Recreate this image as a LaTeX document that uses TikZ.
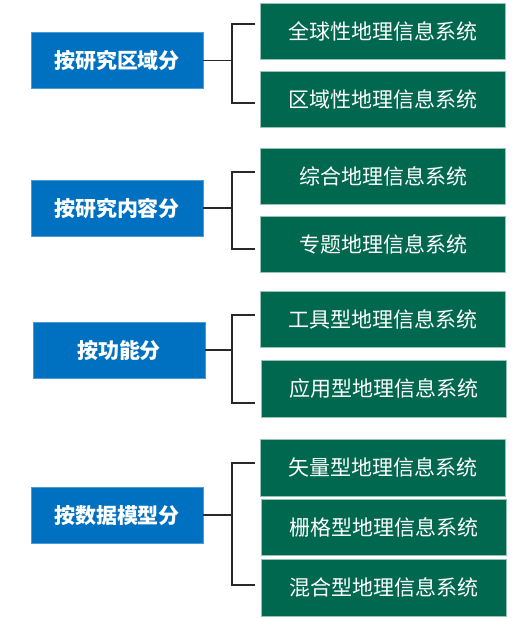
\documentclass[tikz,border=0pt]{standalone}
\usepackage{fontspec}
\newfontfamily\cjk{Noto Sans CJK SC}
\definecolor{catblue}{RGB}{0,112,192}
\definecolor{leafgreen}{RGB}{0,104,78}
\definecolor{leafedge}{RGB}{150,196,180}
\definecolor{linkgray}{RGB}{40,40,40}
\begin{document}
\begin{tikzpicture}[x=1pt,y=-1pt,
  catbox/.style={rectangle, fill=catblue, draw=catblue!70!white, line width=0.5pt,
    minimum width=172pt, minimum height=56pt, inner sep=0pt,
    text=white, font=\cjk\bfseries\fontsize{21}{21}\selectfont},
  leafbox/.style={rectangle, fill=leafgreen, draw=leafedge, line width=0.8pt,
    minimum width=245pt, minimum height=56pt, inner sep=0pt,
    text=white, font=\cjk\fontsize{21}{21}\selectfont},
  link/.style={draw=linkgray, line width=1.1pt}]
\useasboundingbox (0,0) rectangle (523,619);

% categories
\node[catbox] (c1) at (117,60.5) {按研究区域分};
\node[catbox] (c2) at (117,208) {按研究内容分};
\node[catbox] (c3) at (119,350) {按功能分};
\node[catbox] (c4) at (117,515) {按数据模型分};

% leaves
\node[leafbox] (l11) at (382.5,31) {全球性地理信息系统};
\node[leafbox] (l12) at (382.5,99) {区域性地理信息系统};
\node[leafbox] (l21) at (383,176) {综合地理信息系统};
\node[leafbox] (l22) at (383,244) {专题地理信息系统};
\node[leafbox] (l31) at (383,319) {工具型地理信息系统};
\node[leafbox,minimum height=57pt] (l32) at (384,388.5) {应用型地理信息系统};
\node[leafbox,minimum height=57pt] (l41) at (383,467.5) {矢量型地理信息系统};
\node[leafbox] (l42) at (384,527) {栅格型地理信息系统};
\node[leafbox,minimum height=57pt] (l43) at (384,587.5) {混合型地理信息系统};

% bracket corners and branch ends
\coordinate (t1) at (232,24);  \coordinate (u1) at (232,103);
\coordinate (a1) at (255,24);  \coordinate (b1) at (255,103);
\coordinate (t2) at (232,172); \coordinate (u2) at (232,249);
\coordinate (a2) at (255,172); \coordinate (b2) at (255,249);
\coordinate (t3) at (232,315); \coordinate (u3) at (232,403);
\coordinate (a3) at (255,315); \coordinate (b3) at (255,403);
\coordinate (t4) at (232,463); \coordinate (u4) at (232,585);
\coordinate (a4) at (255,463); \coordinate (b4) at (255,585);

% brackets
\foreach \i in {1,2,3,4}{
  \draw[link] (c\i.east) -- (c\i.east -| t\i);
  \draw[link] (a\i) -- (t\i) -- (u\i) -- (b\i);
}
\end{tikzpicture}
\end{document}
